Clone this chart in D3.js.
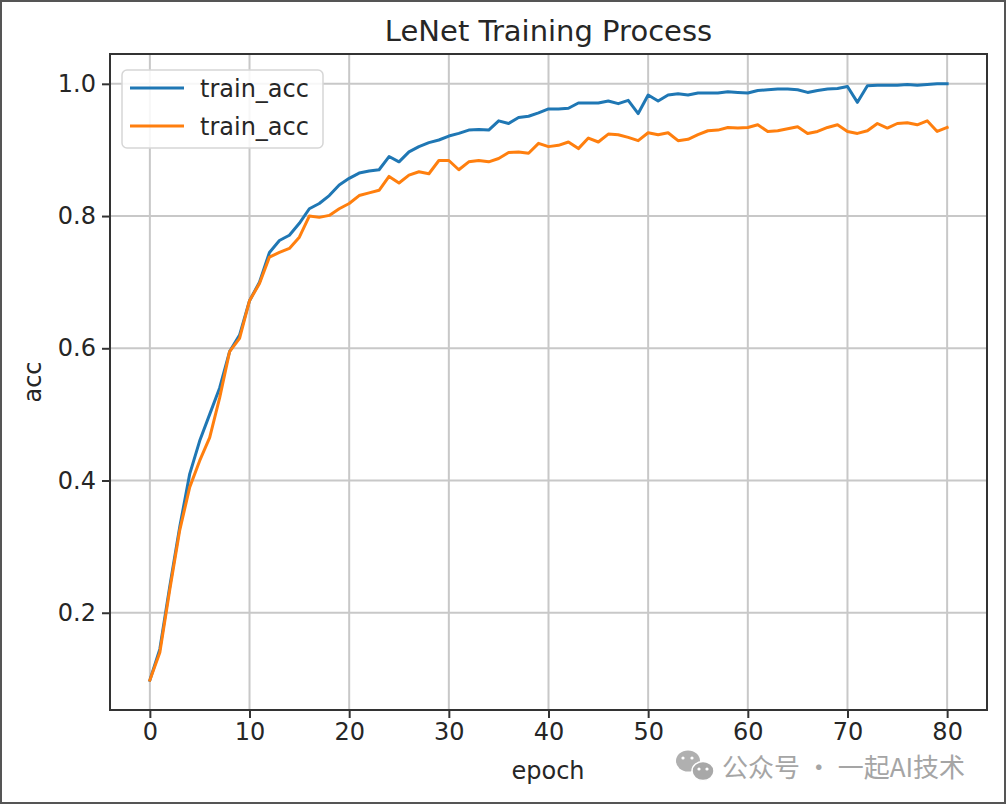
<!DOCTYPE html>
<html><head><meta charset="utf-8">
<script src="https://cdn.jsdelivr.net/npm/d3@7/dist/d3.min.js"></script>
<style>
html,body{margin:0;padding:0;background:#fff;}
svg{display:block;}
text{font-family:"DejaVu Sans",sans-serif;fill:#262626;}
</style></head>
<body>
<script>
const epochs = d3.range(0, 81);
const trainAcc = [0.098,0.145,0.24,0.33,0.41,0.46,0.50,0.54,0.595,0.62,0.672,0.70,0.745,0.763,0.771,0.789,0.811,0.819,0.831,0.847,0.857,0.865,0.868,0.870,0.890,0.882,0.897,0.905,0.911,0.915,0.921,0.925,0.930,0.931,0.930,0.944,0.940,0.949,0.951,0.956,0.962,0.962,0.963,0.971,0.971,0.971,0.974,0.970,0.975,0.955,0.983,0.974,0.983,0.985,0.983,0.986,0.986,0.986,0.988,0.987,0.986,0.990,0.991,0.992,0.992,0.991,0.987,0.990,0.992,0.993,0.996,0.972,0.997,0.998,0.998,0.998,0.999,0.998,0.999,1.000,1.000];
const testAcc = [0.098,0.140,0.235,0.325,0.39,0.43,0.465,0.525,0.595,0.615,0.672,0.698,0.738,0.745,0.751,0.768,0.800,0.798,0.801,0.811,0.819,0.831,0.835,0.839,0.860,0.850,0.862,0.867,0.864,0.884,0.884,0.870,0.882,0.884,0.882,0.887,0.896,0.897,0.895,0.910,0.905,0.907,0.912,0.902,0.918,0.912,0.924,0.923,0.919,0.914,0.926,0.923,0.926,0.914,0.916,0.923,0.929,0.930,0.934,0.933,0.934,0.938,0.928,0.929,0.932,0.935,0.925,0.928,0.934,0.938,0.928,0.925,0.929,0.940,0.933,0.940,0.941,0.938,0.944,0.928,0.934];
const seriesNames = ["train_acc", "train_acc"];
const xTicks = [0,10,20,30,40,50,60,70,80];
const yTicks = [0.2,0.4,0.6,0.8,1.0];
const titleText = "LeNet Training Process";
const xLabel = "epoch";
const yLabel = "acc";
const watermark = "公众号 · 一起AI技术";

const W = 1006, H = 804;
const L = 110, R = 987, T = 54, B = 710;
const FS = 24;
const svg = d3.select("body").append("svg").attr("width", W).attr("height", H);
svg.append("rect").attr("x",1).attr("y",1).attr("width",W-2).attr("height",H-2)
  .attr("fill","#fff").attr("stroke","#555").attr("stroke-width",2);

const xe = d3.extent(epochs), xp = (xe[1]-xe[0])*0.05;
const allY = trainAcc.concat(testAcc);
const ye = d3.extent(allY), yp = (ye[1]-ye[0])*0.05;
const x = d3.scaleLinear().domain([xe[0]-xp, xe[1]+xp]).range([L, R]);
const y = d3.scaleLinear().domain([ye[0]-yp, ye[1]+yp]).range([B, T]);

// grid
const g = svg.append("g");
g.selectAll(".gx").data(xTicks).enter().append("line")
  .attr("x1", d=>x(d)).attr("x2", d=>x(d)).attr("y1", T).attr("y2", B)
  .attr("stroke", "#c8c8c8").attr("stroke-width", 2);
g.selectAll(".gy").data(yTicks).enter().append("line")
  .attr("y1", d=>y(d)).attr("y2", d=>y(d)).attr("x1", L).attr("x2", R)
  .attr("stroke", "#c8c8c8").attr("stroke-width", 2);

// axes
const xAxis = d3.axisBottom(x).tickValues(xTicks).tickSize(8).tickPadding(5).tickFormat(d3.format("d"));
const yAxis = d3.axisLeft(y).tickValues(yTicks).tickSize(8).tickPadding(6).tickFormat(d3.format(".1f"));
const gx = svg.append("g").attr("transform", `translate(0,${B})`).call(xAxis);
const gy = svg.append("g").attr("transform", `translate(${L},0)`).call(yAxis);
[gx, gy].forEach(a => {
  a.select(".domain").remove();
  a.selectAll(".tick line").attr("stroke", "#333").attr("stroke-width", 2);
  a.selectAll(".tick text").attr("font-size", FS).attr("fill", "#262626").style("font-family", "DejaVu Sans");
});

// lines
const line = d3.line().x((d,i)=>x(epochs[i])).y(d=>y(d));
const colors = ["#1f77b4", "#ff7f0e"];
[trainAcc, testAcc].forEach((s, k) => {
  svg.append("path").datum(s).attr("d", line).attr("fill", "none")
    .attr("stroke", colors[k]).attr("stroke-width", 3).attr("stroke-linejoin", "round").attr("stroke-linecap","square");
});

// frame
svg.append("rect").attr("x", L).attr("y", T).attr("width", R-L).attr("height", B-T)
  .attr("fill", "none").attr("stroke", "#333").attr("stroke-width", 2);

// title & labels
svg.append("text").attr("x", (L+R)/2 + 0).attr("y", 41).attr("text-anchor", "middle")
  .attr("font-size", 29).text(titleText);
svg.append("text").attr("x", 548).attr("y", 779).attr("text-anchor", "middle")
  .attr("font-size", FS).text(xLabel);
svg.append("text").attr("transform", `translate(41,${(T+B)/2}) rotate(-90)`).attr("text-anchor", "middle")
  .attr("font-size", FS).text(yLabel);

// legend
const lg = svg.append("g").attr("transform", "translate(122,70)");
lg.append("rect").attr("width", 201).attr("height", 78).attr("rx", 5)
  .attr("fill", "#fff").attr("fill-opacity", 0.85).attr("stroke", "#d6d6d6").attr("stroke-width", 1.5);
seriesNames.forEach((n, k) => {
  lg.append("line").attr("x1", 8).attr("x2", 62).attr("y1", 18 + k*38).attr("y2", 18 + k*38)
    .attr("stroke", colors[k]).attr("stroke-width", 3);
  lg.append("text").attr("x", 78).attr("y", 18 + k*38 + 9).attr("font-size", FS).text(n);
});

// watermark
const wm = svg.append("g");
wm.append("ellipse").attr("cx", 688).attr("cy", 761).attr("rx", 12).attr("ry", 10.5).attr("fill", "#b0b0b0");
wm.append("ellipse").attr("cx", 703).attr("cy", 771).attr("rx", 11).attr("ry", 9.5).attr("fill", "#a8a8a8").attr("stroke","#fff").attr("stroke-width",1.5);
[[683,758],[692,758],[699,769],[707,769]].forEach(p => wm.append("circle").attr("cx",p[0]).attr("cy",p[1]).attr("r",1.6).attr("fill","#fff"));
wm.append("text").attr("x", 722).attr("y", 777).attr("font-size", 26)
  .style("font-family", "'Noto Sans CJK SC', sans-serif").style("fill","#a5a5a5").text(watermark);
</script>
</body></html>
